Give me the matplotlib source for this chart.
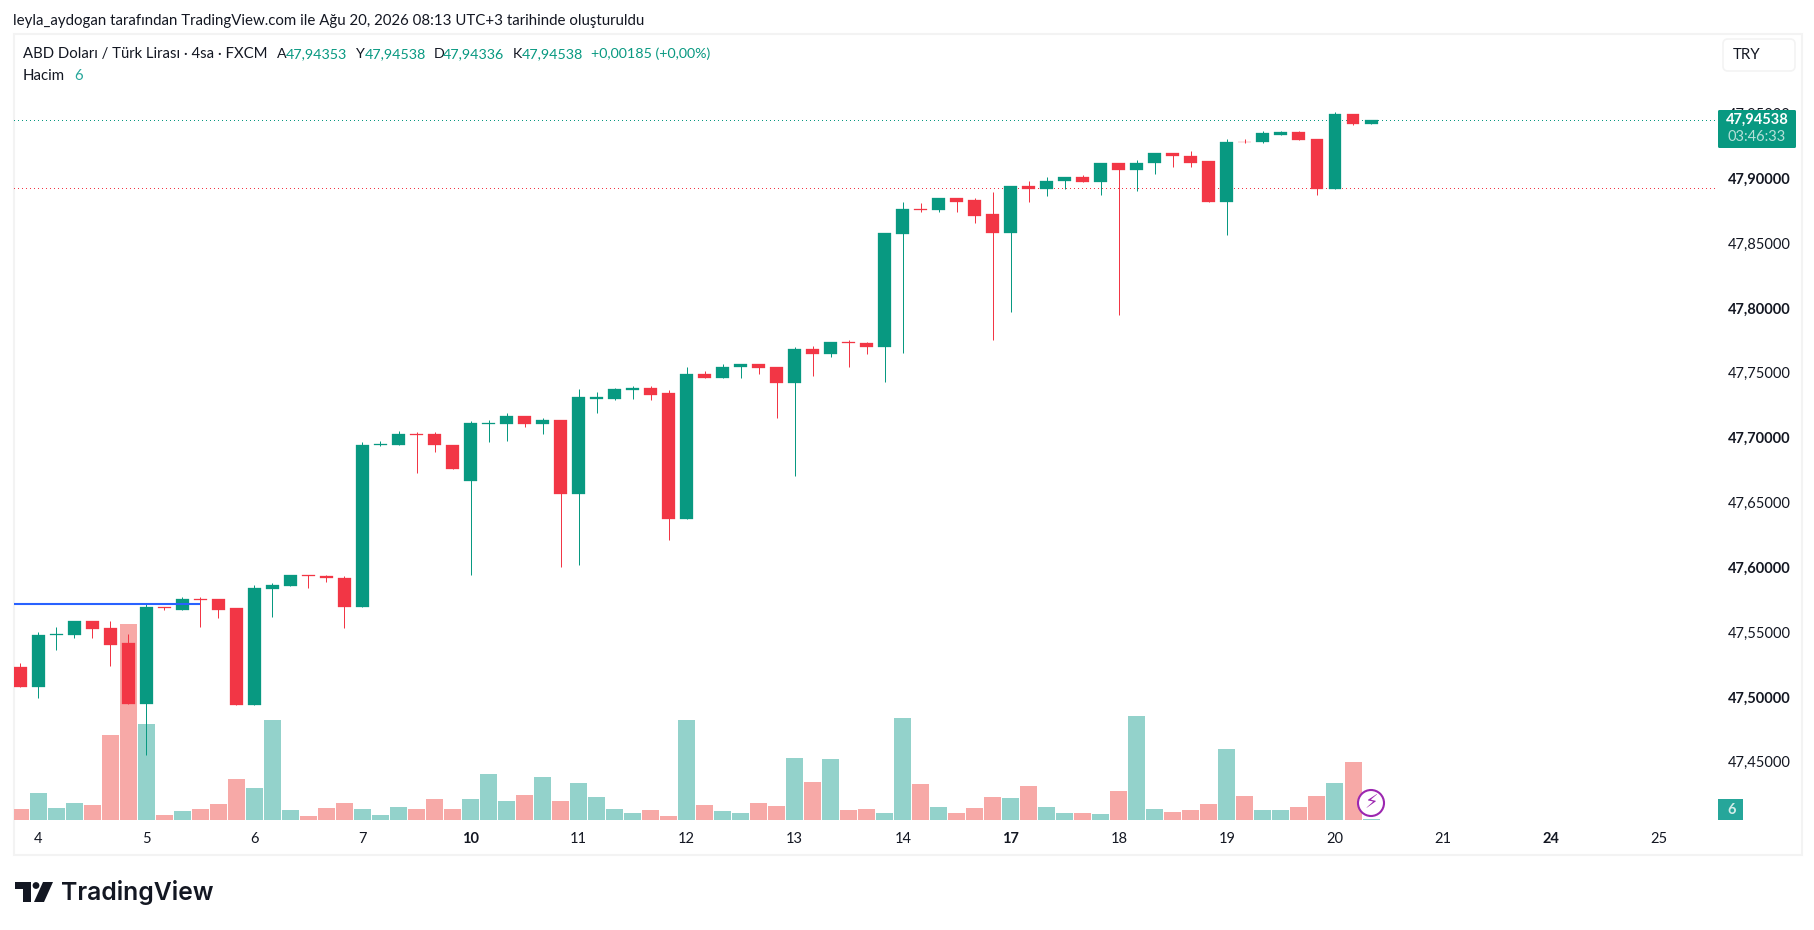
import numpy as np
import matplotlib
matplotlib.use("Agg")
import matplotlib.pyplot as plt
from matplotlib.patches import Circle, FancyBboxPatch, Polygon, Rectangle
from matplotlib.transforms import IdentityTransform

W, H = 1815, 930

# candle data, USD/TRY 4h
opens = [47.5227, 47.5080, 47.5481, 47.5481, 47.5582, 47.5535, 47.5412, 47.4949, 47.5690, 47.5674,
         47.5759, 47.5752, 47.5682, 47.4941, 47.5836, 47.5852, 47.5937, 47.5929, 47.5921, 47.5690,
         47.6940, 47.6947, 47.7025, 47.7025, 47.6947, 47.6662, 47.7109, 47.7109, 47.7171, 47.7109,
         47.7133, 47.6562, 47.7302, 47.7302, 47.7364, 47.7387, 47.7341, 47.6369, 47.7495, 47.7464,
         47.7542, 47.7565, 47.7542, 47.7418, 47.7688, 47.7649, 47.7742, 47.7734, 47.7696, 47.8575,
         47.8761, 47.8753, 47.8846, 47.8830, 47.8722, 47.8583, 47.8938, 47.8915, 47.8977, 47.9008,
         47.8969, 47.9123, 47.9062, 47.9116, 47.9193, 47.9177, 47.9131, 47.8815, 47.9285, 47.9278,
         47.9339, 47.9362, 47.9301, 47.8915, 47.9494, 47.9424]
highs = [47.5265, 47.5504, 47.5543, 47.5582, 47.5582, 47.5582, 47.5489, 47.5728, 47.5690, 47.5767,
         47.5767, 47.5759, 47.5682, 47.5860, 47.5875, 47.5944, 47.5944, 47.5944, 47.5929, 47.6963,
         47.6971, 47.7048, 47.7040, 47.7040, 47.6947, 47.7125, 47.7140, 47.7194, 47.7171, 47.7148,
         47.7133, 47.7379, 47.7349, 47.7387, 47.7395, 47.7395, 47.7364, 47.7542, 47.7511, 47.7572,
         47.7572, 47.7572, 47.7549, 47.7696, 47.7711, 47.7742, 47.7750, 47.7742, 47.8583, 47.8822,
         47.8807, 47.8846, 47.8846, 47.8846, 47.8892, 47.8938, 47.8977, 47.9008, 47.9015, 47.9023,
         47.9123, 47.9123, 47.9139, 47.9193, 47.9200, 47.9208, 47.9131, 47.9301, 47.9308, 47.9370,
         47.9370, 47.9370, 47.9308, 47.9509, 47.9501, 47.94538]
lows = [47.5080, 47.4995, 47.5358, 47.5458, 47.5458, 47.5242, 47.4949, 47.4548, 47.5674, 47.5674,
        47.5543, 47.5612, 47.4941, 47.4934, 47.5620, 47.5852, 47.5844, 47.5890, 47.5535, 47.5690,
        47.6932, 47.6940, 47.6724, 47.6893, 47.6762, 47.5944, 47.6963, 47.6978, 47.7079, 47.7025,
        47.6006, 47.6021, 47.7187, 47.7287, 47.7295, 47.7287, 47.6207, 47.6369, 47.7464, 47.7464,
        47.7457, 47.7488, 47.7148, 47.6708, 47.7472, 47.7619, 47.7549, 47.7649, 47.7433, 47.7657,
        47.8745, 47.8745, 47.8738, 47.8653, 47.7750, 47.7966, 47.8815, 47.8861, 47.8915, 47.8969,
        47.8876, 47.7943, 47.8900, 47.9031, 47.9092, 47.9092, 47.8815, 47.8560, 47.9270, 47.9270,
        47.9339, 47.9293, 47.8869, 47.8915, 47.9416, 47.9424]
closes = [47.5080, 47.5481, 47.5489, 47.5582, 47.5527, 47.5404, 47.4949, 47.5690, 47.5682, 47.5759,
          47.5744, 47.5674, 47.4941, 47.5844, 47.5860, 47.5937, 47.5929, 47.5914, 47.5690, 47.6947,
          47.6955, 47.7025, 47.7017, 47.6940, 47.6762, 47.7117, 47.7117, 47.7171, 47.7109, 47.7133,
          47.6562, 47.7310, 47.7310, 47.7372, 47.7387, 47.7333, 47.6369, 47.7495, 47.7464, 47.7549,
          47.7565, 47.7534, 47.7418, 47.7688, 47.7649, 47.7742, 47.7734, 47.7696, 47.8583, 47.8761,
          47.8753, 47.8846, 47.8822, 47.8714, 47.8583, 47.8938, 47.8915, 47.8984, 47.9008, 47.8969,
          47.9123, 47.9062, 47.9123, 47.9193, 47.9170, 47.9123, 47.8815, 47.9285, 47.9278, 47.9347,
          47.9362, 47.9293, 47.8915, 47.9494, 47.9424, 47.94538]
volumes = [66, 162, 72, 102, 90, 510, 1176, 576, 30, 54, 66, 96, 246, 192, 600, 60, 24, 72, 102, 66,
           30, 78, 66, 126, 66, 126, 276, 114, 150, 258, 114, 222, 138, 66, 42, 60, 24, 600, 90, 54,
           42, 102, 84, 372, 228, 366, 60, 66, 42, 612, 216, 78, 42, 72, 138, 132, 204, 78, 42, 42,
           36, 174, 624, 66, 48, 60, 96, 426, 144, 60, 60, 78, 144, 222, 348, 6]

day_positions = [1, 7, 13, 19, 25, 31, 37, 43, 49, 55, 61, 67, 73, 79, 85, 91]
day_labels = ["4", "5", "6", "7", "10", "11", "12", "13", "14", "17", "18", "19", "20", "21", "24", "25"]
bold_days = ["10", "17", "24"]

price_ticks = [47.45, 47.50, 47.55, 47.60, 47.65, 47.70, 47.75, 47.80, 47.85, 47.90, 47.95]
bold_prices = [47.50, 47.60, 47.70, 47.80, 47.90]

last_price = 47.94538
prev_close_line = 47.8923
blue_level = 47.5713

GREEN = "#089981"
RED = "#F23645"
VOL_GREEN = "#93D2CB"
VOL_RED = "#F7A9A7"
TEXT = "#131722"
BORDER = "#F3F3F3"
FONT = "Lato"

plt.rcParams["font.family"] = FONT


def axes_rect(left, top, right, bottom):
    # pixel box (y from the top) to figure fractions
    return [left / W, 1 - bottom / H, (right - left) / W, (bottom - top) / H]


def fig_text(x, y, s, **kw):
    kw.setdefault("color", TEXT)
    kw.setdefault("fontsize", 10.8)
    kw.setdefault("va", "center")
    fig.text(x / W, 1 - y / H, s, **kw)


def fig_rect(x0, y0, x1, y1, **kw):
    fig.add_artist(Rectangle((x0 / W, 1 - y1 / H), (x1 - x0) / W, (y1 - y0) / H,
                             transform=fig.transFigure, **kw))


fig = plt.figure(figsize=(W / 100, H / 100), dpi=100, facecolor="white")

# panel frame
fig_rect(14, 34, 1802, 855, facecolor="white", edgecolor=BORDER, linewidth=1.5, zorder=-1)

x = np.arange(len(closes))
o = np.array(opens)
c = np.array(closes)
up = c >= o
xlim = (-0.35, 94.1)

# volume pane sits under the candles
vol_ax = fig.add_axes(axes_rect(14, 35.5, 1715, 819.5))
vol_ax.set_xlim(*xlim)
vol_ax.set_ylim(0, 4704)
vol_ax.bar(x, volumes, width=0.944, linewidth=0,
           color=[VOL_GREEN if u else VOL_RED for u in up])
vol_ax.axis("off")

ax = fig.add_axes(axes_rect(14, 35.5, 1715, 819.5))
ax.patch.set_alpha(0)
ax.set_xlim(*xlim)
ax.set_ylim(47.4054, 48.0103)
colors = [GREEN if u else RED for u in up]
ax.vlines(x, lows, highs, colors=colors, linewidth=0.72, zorder=3)
ax.bar(x, np.abs(c - o), bottom=np.minimum(o, c), width=0.72, color=colors,
       edgecolor=colors, linewidth=0.2, zorder=4)

ax.hlines(blue_level, xlim[0], 10.0, color="#2962FF", linewidth=1.5, zorder=5)
ax.axhline(last_price, color=GREEN, linewidth=0.72, linestyle=(0, (1, 4)), antialiased=False, zorder=2)
ax.axhline(prev_close_line, color=RED, linewidth=0.72, linestyle=(0, (1, 4)), antialiased=False, zorder=2)

for side in ax.spines.values():
    side.set_visible(False)

ax.yaxis.tick_right()
ax.set_yticks(price_ticks)
ax.set_yticklabels([f"{p:.5f}".replace(".", ",") for p in price_ticks])
ax.set_xticks(day_positions)
ax.set_xticklabels(day_labels)
ax.tick_params(axis="both", length=0, labelsize=10.5, labelcolor=TEXT)
ax.tick_params(axis="y", pad=9)
ax.tick_params(axis="x", pad=9)
for lab, p in zip(ax.get_yticklabels(), price_ticks):
    if p in bold_prices:
        lab.set_fontweight("bold")
for lab in ax.get_xticklabels():
    if lab.get_text() in bold_days:
        lab.set_fontweight("bold")

# header lines
fig_text(13, 20.5, "leyla_aydogan tarafından TradingView.com ile Ağu 20, 2026 08:13 UTC+3 tarihinde oluşturuldu")
fig_text(23, 54, "ABD Doları / Türk Lirası · 4sa · FXCM", fontsize=10.7)
legend_parts = [(277, "A", TEXT), (286, "47,94353", GREEN), (356, "Y", TEXT), (365, "47,94538", GREEN),
                (434, "D", TEXT), (443, "47,94336", GREEN), (513, "K", TEXT), (522, "47,94538", GREEN),
                (591, "+0,00185 (+0,00%)", GREEN)]
for px, s, col in legend_parts:
    fig_text(px, 54, s, color=col, fontsize=10.3)
fig_text(23, 75.5, "Hacim")
fig_text(74, 75.5, "6", color="#26A69A")

# currency button
fig.add_artist(FancyBboxPatch((1723, H - 71), 72, 32, boxstyle="round,pad=0,rounding_size=5",
                              transform=IdentityTransform(), facecolor="white",
                              edgecolor=BORDER, linewidth=1.2, zorder=5))
fig_text(1733, 55, "TRY", zorder=6)

# last price tag
fig.add_artist(FancyBboxPatch((1718, H - 148), 78, 38, boxstyle="round,pad=0,rounding_size=1.5",
                              transform=IdentityTransform(), facecolor=GREEN,
                              edgecolor="none", zorder=5))
fig_text(1757, 120, "47,94538", color="white", fontweight="bold", fontsize=10.5, ha="center", zorder=6)
fig_text(1757, 137, "03:46:33", color="#B5E0D9", fontsize=10.5, ha="center", zorder=6)

# volume tag
fig_rect(1718, 799, 1743, 820, facecolor="#26A69A", edgecolor="none", zorder=5)
fig_text(1732, 810, "6", color="#D4EDE9", fontweight="bold", fontsize=10.5, ha="center", zorder=6)

# purple bolt badge
fig.add_artist(Circle((1371, H - 803), 13, transform=IdentityTransform(), facecolor="white",
                      edgecolor="#9C27B0", linewidth=1.5, zorder=6))
fig.text(1371 / W, 1 - 803 / H, "\u26a1", color="#9C27B0", fontsize=14, ha="center", va="center",
         family="DejaVu Sans", zorder=7)

# logo
logo = [[(15, 882), (31, 882), (31, 902), (23, 902), (23, 889), (15, 889)],
        [(43, 882), (53, 882), (44, 902), (34, 902)]]
for pts in logo:
    fig.add_artist(Polygon([(a, H - b) for a, b in pts], transform=IdentityTransform(),
                           facecolor=TEXT, edgecolor="none"))
fig.add_artist(Circle((36, H - 885.5), 3.4, transform=IdentityTransform(), facecolor=TEXT, edgecolor="none"))
fig_text(61, 892, "TradingView", family="Inter", fontweight="semibold", fontsize=17.8)

fig.savefig("out.png", dpi=100)
